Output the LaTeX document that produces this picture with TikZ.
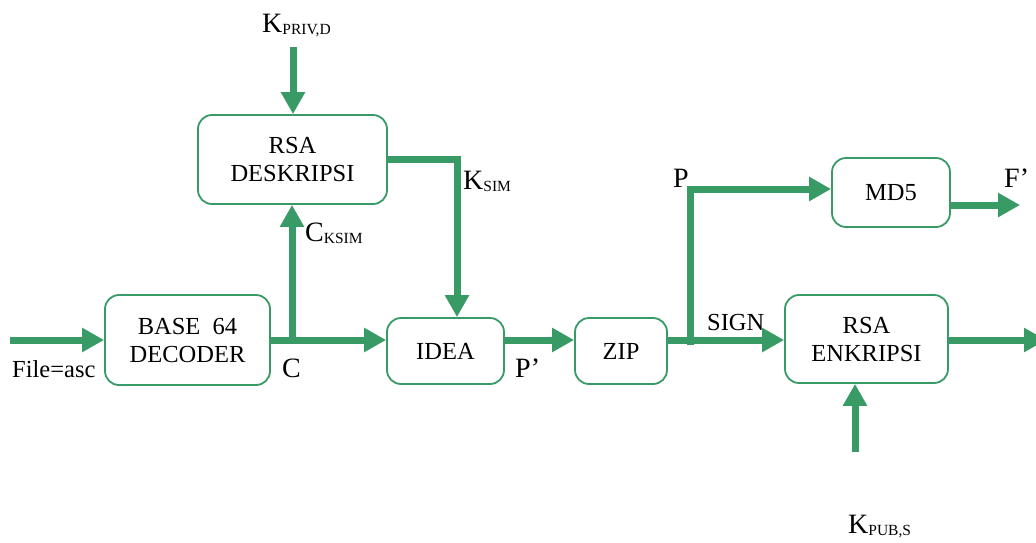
\documentclass[tikz,border=0pt]{standalone}
\usepackage{fontspec}
\setmainfont{Liberation Serif}
\usetikzlibrary{arrows.meta}
\definecolor{flow}{RGB}{56,154,101}
% key label with a lowered small index
\newcommand{\keylab}[2]{#1\raisebox{-2.5pt}{\fontsize{15.5}{16}\selectfont #2}}
\begin{document}
\begin{tikzpicture}[x=1pt,y=-1pt,
  blk/.style={draw=flow, line width=1.8pt, rounded corners=14pt, align=center,
    font=\fontsize{24.5}{28}\selectfont, inner sep=0pt},
  arr/.style={draw=flow, line width=7pt, -{Triangle[length=22pt,width=23pt]}},
  lab/.style={font=\fontsize{28}{30}\selectfont, inner sep=0pt, anchor=base west},
  txt/.style={font=\fontsize{24.5}{26}\selectfont, inner sep=0pt, anchor=base west}]
\useasboundingbox (0,0) rectangle (1036,542);

% blocks
\node[blk, minimum width=165pt, minimum height=90pt] (base) at (187.5,340) {BASE~~64\\DECODER};
\node[blk, minimum width=189pt, minimum height=89pt] (drk) at (292.5,159.5) {RSA\\DESKRIPSI};
\node[blk, minimum width=117pt, minimum height=66pt] (idea) at (445.5,351) {IDEA};
\node[blk, minimum width=92pt, minimum height=66pt] (zip) at (621,351) {ZIP};
\node[blk, minimum width=118pt, minimum height=69pt] (md5) at (891,192.5) {MD5};
\node[blk, minimum width=163pt, minimum height=88pt] (enk) at (866.5,339) {RSA\\ENKRIPSI};

% connector end points and bends
\coordinate (in) at (10,340);
\coordinate (row) at (0,340);
\coordinate (cj) at (292,340);
\coordinate (kp) at (293,47);
\coordinate (kt) at (457,158);
\coordinate (pj) at (690,345);
\coordinate (pt) at (690,189);
\coordinate (fo) at (1020,205);
\coordinate (eo) at (1046,340);
\coordinate (kb) at (855,452);

% connectors
\draw[arr] (in) -- (base.west);
\draw[arr] (base.east) -- (base.east -| idea.west);
\draw[arr] (cj) -- (cj |- drk.south);
\draw[arr] (kp) -- (kp |- drk.north);
\draw[arr] (drk.east) -| (kt |- idea.north);
\draw[arr] (idea.east |- row) -- (zip.west |- row);
\draw[arr] (zip.east |- row) -- (enk.west |- row);
\draw[arr] (pj) -- (pt) -- (pt -| md5.west);
\draw[arr] (fo -| md5.east) -- (fo);
\draw[arr] (enk.east |- eo) -- (eo);
\draw[arr] (kb) -- (kb |- enk.south);

% labels
\node[lab] (lkp) at (262,32) {\keylab{K}{PRIV,D}};
\node[lab] (lks) at (463,189) {\keylab{K}{SIM}};
\node[lab] (lck) at (305,241) {\keylab{C}{KSIM}};
\node[lab] (lc) at (282,377) {C};
\node[txt] (lf) at (12,377) {File=asc};
\node[lab] (lpp) at (515,377) {P’};
\node[lab] (lp) at (673,187) {P};
\node[txt] (ls) at (707,330) {SIGN};
\node[lab] (lfp) at (1004,187) {F’};
\node[lab] (lkb) at (848,533) {\keylab{K}{PUB,S}};
\end{tikzpicture}
\end{document}
